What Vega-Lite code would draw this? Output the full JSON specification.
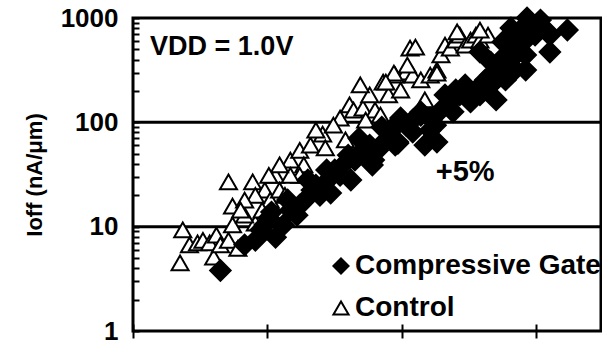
{
  "$schema": "https://vega.github.io/schema/vega-lite/v6.json",
  "autosize": "none",
  "width": 468,
  "height": 313,
  "padding": {"left": 133, "top": 18, "right": 1, "bottom": 10},
  "background": "white",
  "config": {
    "view": {"stroke": "black", "strokeWidth": 3},
    "font": "Liberation Sans"
  },
  "datasets": {
    "pts": [
      {"series": "Control", "x": 0.37, "y": 9.3},
      {"series": "Control", "x": 0.35, "y": 4.5},
      {"series": "Control", "x": 0.42, "y": 6.7},
      {"series": "Control", "x": 0.48, "y": 7.0},
      {"series": "Control", "x": 0.52, "y": 7.4},
      {"series": "Control", "x": 0.57, "y": 7.0},
      {"series": "Control", "x": 0.60, "y": 5.1},
      {"series": "Control", "x": 0.62, "y": 8.3},
      {"series": "Control", "x": 0.65, "y": 6.7},
      {"series": "Control", "x": 0.71, "y": 7.4},
      {"series": "Control", "x": 0.78, "y": 6.2},
      {"series": "Control", "x": 0.71, "y": 26.8},
      {"series": "Control", "x": 0.74, "y": 15.7},
      {"series": "Control", "x": 0.74, "y": 10.4},
      {"series": "Control", "x": 0.89, "y": 26.8},
      {"series": "Control", "x": 0.91, "y": 10.8},
      {"series": "Control", "x": 0.93, "y": 8.9},
      {"series": "Control", "x": 0.98, "y": 22.4},
      {"series": "Control", "x": 1.02, "y": 18},
      {"series": "Control", "x": 1.06, "y": 31},
      {"series": "Control", "x": 1.09, "y": 22.4},
      {"series": "Control", "x": 1.17, "y": 43.5},
      {"series": "Control", "x": 1.24, "y": 54},
      {"series": "Control", "x": 1.27, "y": 39},
      {"series": "Control", "x": 1.32, "y": 60.5},
      {"series": "Control", "x": 1.41, "y": 77},
      {"series": "Control", "x": 1.43, "y": 57},
      {"series": "Control", "x": 1.54, "y": 110},
      {"series": "Control", "x": 1.61, "y": 147},
      {"series": "Control", "x": 1.64, "y": 131},
      {"series": "Control", "x": 1.71, "y": 137},
      {"series": "Control", "x": 1.80, "y": 131},
      {"series": "Control", "x": 1.86, "y": 243},
      {"series": "Control", "x": 1.90, "y": 183},
      {"series": "Control", "x": 1.95, "y": 284},
      {"series": "Control", "x": 1.99, "y": 204},
      {"series": "Control", "x": 2.06, "y": 515},
      {"series": "Control", "x": 2.03, "y": 303},
      {"series": "Control", "x": 2.08, "y": 284},
      {"series": "Control", "x": 2.14, "y": 255},
      {"series": "Control", "x": 2.17, "y": 164},
      {"series": "Control", "x": 2.21, "y": 284},
      {"series": "Control", "x": 2.26, "y": 317},
      {"series": "Control", "x": 2.29, "y": 442},
      {"series": "Control", "x": 2.32, "y": 551},
      {"series": "Control", "x": 2.36, "y": 515},
      {"series": "Control", "x": 2.40, "y": 615},
      {"series": "Control", "x": 2.43, "y": 687},
      {"series": "Control", "x": 2.47, "y": 551},
      {"series": "Control", "x": 2.51, "y": 615},
      {"series": "Control", "x": 2.55, "y": 687},
      {"series": "Control", "x": 2.58, "y": 615},
      {"series": "Control", "x": 2.64, "y": 687},
      {"series": "Control", "x": 1.76, "y": 183},
      {"series": "Control", "x": 1.73, "y": 105},
      {"series": "Control", "x": 1.84, "y": 117},
      {"series": "Control", "x": 1.69, "y": 228},
      {"series": "Control", "x": 1.24, "y": 31},
      {"series": "Control", "x": 1.17, "y": 31},
      {"series": "Control", "x": 1.13, "y": 20},
      {"series": "Control", "x": 0.96, "y": 14.4},
      {"series": "Control", "x": 0.83, "y": 12.9},
      {"series": "Control", "x": 2.41, "y": 735},
      {"series": "Control", "x": 2.58, "y": 767},
      {"series": "Control", "x": 2.10, "y": 527},
      {"series": "Control", "x": 2.26, "y": 297},
      {"series": "Control", "x": 1.94, "y": 297},
      {"series": "Control", "x": 2.04, "y": 354},
      {"series": "Control", "x": 1.88, "y": 243},
      {"series": "Control", "x": 1.36, "y": 84},
      {"series": "Control", "x": 1.49, "y": 94},
      {"series": "Control", "x": 1.58, "y": 68},
      {"series": "Control", "x": 1.09, "y": 39},
      {"series": "Control", "x": 1.01, "y": 31},
      {"series": "Control", "x": 0.91, "y": 20},
      {"series": "Control", "x": 0.83, "y": 18},
      {"series": "Control", "x": 0.80, "y": 14.4},
      {"series": "Compressive Gate", "x": 0.65, "y": 3.8},
      {"series": "Compressive Gate", "x": 0.83, "y": 6.7},
      {"series": "Compressive Gate", "x": 0.91, "y": 7.4},
      {"series": "Compressive Gate", "x": 0.95, "y": 9.3},
      {"series": "Compressive Gate", "x": 1.01, "y": 12.1},
      {"series": "Compressive Gate", "x": 1.06, "y": 7.9},
      {"series": "Compressive Gate", "x": 1.12, "y": 10.4},
      {"series": "Compressive Gate", "x": 1.17, "y": 14.4},
      {"series": "Compressive Gate", "x": 1.22, "y": 12.9},
      {"series": "Compressive Gate", "x": 1.28, "y": 18},
      {"series": "Compressive Gate", "x": 1.33, "y": 22.4},
      {"series": "Compressive Gate", "x": 1.39, "y": 20},
      {"series": "Compressive Gate", "x": 1.45, "y": 28},
      {"series": "Compressive Gate", "x": 1.54, "y": 31},
      {"series": "Compressive Gate", "x": 1.62, "y": 28},
      {"series": "Compressive Gate", "x": 1.65, "y": 43.5},
      {"series": "Compressive Gate", "x": 1.71, "y": 54},
      {"series": "Compressive Gate", "x": 1.60, "y": 48.5},
      {"series": "Compressive Gate", "x": 1.76, "y": 60.5},
      {"series": "Compressive Gate", "x": 1.82, "y": 54},
      {"series": "Compressive Gate", "x": 1.88, "y": 67.6},
      {"series": "Compressive Gate", "x": 1.91, "y": 80.7},
      {"series": "Compressive Gate", "x": 1.95, "y": 94},
      {"series": "Compressive Gate", "x": 1.99, "y": 110},
      {"series": "Compressive Gate", "x": 1.78, "y": 39},
      {"series": "Compressive Gate", "x": 1.95, "y": 60.5},
      {"series": "Compressive Gate", "x": 2.03, "y": 94},
      {"series": "Compressive Gate", "x": 2.08, "y": 105},
      {"series": "Compressive Gate", "x": 2.14, "y": 126},
      {"series": "Compressive Gate", "x": 2.17, "y": 60.5},
      {"series": "Compressive Gate", "x": 2.21, "y": 84},
      {"series": "Compressive Gate", "x": 2.25, "y": 94},
      {"series": "Compressive Gate", "x": 2.29, "y": 131},
      {"series": "Compressive Gate", "x": 2.32, "y": 183},
      {"series": "Compressive Gate", "x": 2.36, "y": 164},
      {"series": "Compressive Gate", "x": 2.40, "y": 204},
      {"series": "Compressive Gate", "x": 2.43, "y": 183},
      {"series": "Compressive Gate", "x": 2.47, "y": 228},
      {"series": "Compressive Gate", "x": 2.51, "y": 164},
      {"series": "Compressive Gate", "x": 2.55, "y": 204},
      {"series": "Compressive Gate", "x": 2.58, "y": 183},
      {"series": "Compressive Gate", "x": 2.62, "y": 255},
      {"series": "Compressive Gate", "x": 2.66, "y": 284},
      {"series": "Compressive Gate", "x": 2.70, "y": 255},
      {"series": "Compressive Gate", "x": 2.73, "y": 354},
      {"series": "Compressive Gate", "x": 2.77, "y": 442},
      {"series": "Compressive Gate", "x": 2.81, "y": 395},
      {"series": "Compressive Gate", "x": 2.84, "y": 551},
      {"series": "Compressive Gate", "x": 2.88, "y": 767},
      {"series": "Compressive Gate", "x": 2.92, "y": 615},
      {"series": "Compressive Gate", "x": 2.96, "y": 857},
      {"series": "Compressive Gate", "x": 2.99, "y": 687},
      {"series": "Compressive Gate", "x": 3.03, "y": 956},
      {"series": "Compressive Gate", "x": 3.07, "y": 767},
      {"series": "Compressive Gate", "x": 2.76, "y": 395},
      {"series": "Compressive Gate", "x": 2.70, "y": 164},
      {"series": "Compressive Gate", "x": 2.84, "y": 317},
      {"series": "Compressive Gate", "x": 2.92, "y": 442},
      {"series": "Compressive Gate", "x": 2.77, "y": 255},
      {"series": "Compressive Gate", "x": 2.92, "y": 317},
      {"series": "Compressive Gate", "x": 3.10, "y": 687},
      {"series": "Compressive Gate", "x": 3.23, "y": 767},
      {"series": "Compressive Gate", "x": 3.10, "y": 472},
      {"series": "Compressive Gate", "x": 2.83, "y": 332},
      {"series": "Compressive Gate", "x": 2.93, "y": 1000},
      {"series": "Compressive Gate", "x": 2.81, "y": 802},
      {"series": "Compressive Gate", "x": 2.75, "y": 589},
      {"series": "Compressive Gate", "x": 2.58, "y": 472},
      {"series": "Compressive Gate", "x": 2.66, "y": 378},
      {"series": "Compressive Gate", "x": 2.34, "y": 147},
      {"series": "Compressive Gate", "x": 2.38, "y": 126},
      {"series": "Compressive Gate", "x": 2.51, "y": 157},
      {"series": "Compressive Gate", "x": 2.58, "y": 195},
      {"series": "Compressive Gate", "x": 2.66, "y": 228},
      {"series": "Compressive Gate", "x": 2.21, "y": 110},
      {"series": "Compressive Gate", "x": 2.14, "y": 117},
      {"series": "Compressive Gate", "x": 2.26, "y": 64.7},
      {"series": "Compressive Gate", "x": 1.97, "y": 64.7},
      {"series": "Compressive Gate", "x": 2.08, "y": 80.7},
      {"series": "Compressive Gate", "x": 1.44, "y": 34.9},
      {"series": "Compressive Gate", "x": 1.79, "y": 43.5},
      {"series": "Compressive Gate", "x": 1.97, "y": 63},
      {"series": "Compressive Gate", "x": 1.74, "y": 58},
      {"series": "Compressive Gate", "x": 1.47, "y": 21},
      {"series": "Compressive Gate", "x": 0.98, "y": 10.4},
      {"series": "Compressive Gate", "x": 1.03, "y": 13.8},
      {"series": "Compressive Gate", "x": 1.24, "y": 16.1},
      {"series": "Compressive Gate", "x": 1.36, "y": 25},
      {"series": "Compressive Gate", "x": 1.50, "y": 34.9},
      {"series": "Compressive Gate", "x": 1.57, "y": 40},
      {"series": "Compressive Gate", "x": 1.68, "y": 70},
      {"series": "Compressive Gate", "x": 1.85, "y": 90},
      {"series": "Compressive Gate", "x": 1.30, "y": 28},
      {"series": "Compressive Gate", "x": 1.15, "y": 18}
    ],
    "grid": [{"y": 10}, {"y": 100}],
    "notes": [
      {"x": 0.127, "y": 527, "label": "VDD = 1.0V", "kind": "vdd"},
      {"x": 2.47, "y": 33.4, "label": "+5%", "kind": "pct"}
    ]
  },
  "layer": [
    {
      "data": {"name": "grid"},
      "mark": {"type": "rule", "stroke": "black", "strokeWidth": 3},
      "encoding": {
        "y": {"field": "y", "type": "quantitative", "title": "Ioff (nA/μm)", "scale": {"type": "log", "domain": [1, 1000], "nice": false}}
      }
    },
    {
      "data": {"name": "pts"},
      "transform": [{"filter": "datum.series == 'Control'"}],
      "mark": {"type": "point", "filled": true, "strokeWidth": 2, "opacity": 1, "size": 290},
      "encoding": {
        "x": {
          "field": "x", "type": "quantitative", "title": null,
          "scale": {"domain": [0, 3.48], "nice": false, "zero": false},
          "axis": {"values": [0, 1, 2, 3], "labels": false, "domain": false, "offset": -7, "tickSize": 14, "tickWidth": 2, "tickColor": "black", "grid": false}
        },
        "y": {
          "field": "y", "type": "quantitative", "title": "Ioff (nA/μm)",
          "scale": {"type": "log", "domain": [1, 1000], "nice": false},
          "axis": {
            "values": [1, 2, 3, 4, 5, 6, 7, 8, 9, 10, 20, 30, 40, 50, 60, 70, 80, 90, 100, 200, 300, 400, 500, 600, 700, 800, 900, 1000],
            "labelExpr": "indexof([1, 10, 100, 1000], datum.value) >= 0 ? toString(datum.value) : ''",
            "labelOverlap": false,
            "labelBound": false,
            "domain": false,
            "offset": -6,
            "tickSize": 6,
            "tickWidth": 2,
            "tickColor": "black",
            "grid": false,
            "labelFont": "Liberation Sans",
            "labelFontWeight": "bold",
            "labelFontSize": 26,
            "labelColor": "black",
            "labelPadding": 15,
            "titleFont": "Liberation Sans",
            "titleFontWeight": "bold",
            "titleFontSize": 22,
            "titleColor": "black",
            "titlePadding": 14
          }
        },
        "shape": {
          "field": "series", "type": "nominal",
          "scale": {"domain": ["Compressive Gate", "Control"], "range": ["diamond", "triangle-up"]},
          "legend": {"title": null, "orient": "none", "legendX": 194, "legendY": 234, "padding": 0, "labelFont": "Liberation Sans", "labelFontWeight": "bold", "labelFontSize": 28, "labelColor": "black", "labelOffset": 0, "labelLimit": 0, "symbolSize": 230, "symbolStrokeWidth": 2, "rowPadding": 14}
        },
        "fill": {
          "field": "series", "type": "nominal",
          "scale": {"domain": ["Compressive Gate", "Control"], "range": ["black", "white"]},
          "legend": {"title": null, "orient": "none", "legendX": 194, "legendY": 234, "padding": 0, "labelFont": "Liberation Sans", "labelFontWeight": "bold", "labelFontSize": 28, "labelColor": "black", "labelOffset": 0, "labelLimit": 0, "symbolSize": 230, "symbolStrokeWidth": 2, "rowPadding": 14}
        },
        "stroke": {
          "field": "series", "type": "nominal",
          "scale": {"domain": ["Compressive Gate", "Control"], "range": ["black", "black"]},
          "legend": {"title": null, "orient": "none", "legendX": 194, "legendY": 234, "padding": 0, "labelFont": "Liberation Sans", "labelFontWeight": "bold", "labelFontSize": 28, "labelColor": "black", "labelOffset": 0, "labelLimit": 0, "symbolSize": 230, "symbolStrokeWidth": 2, "rowPadding": 14}
        }
      }
    },
    {
      "data": {"name": "pts"},
      "transform": [{"filter": "datum.series == 'Compressive Gate'"}],
      "mark": {"type": "point", "filled": true, "strokeWidth": 2, "opacity": 1, "size": 420},
      "encoding": {
        "x": {"field": "x", "type": "quantitative", "title": null},
        "y": {"field": "y", "type": "quantitative", "title": "Ioff (nA/μm)"},
        "shape": {"field": "series", "type": "nominal"},
        "fill": {"field": "series", "type": "nominal"},
        "stroke": {"field": "series", "type": "nominal"}
      }
    },
    {
      "data": {"name": "notes"},
      "transform": [{"filter": "datum.kind == 'vdd'"}],
      "mark": {"type": "text", "align": "left", "baseline": "middle", "font": "Liberation Sans", "fontWeight": "bold", "fontSize": 27, "color": "black"},
      "encoding": {
        "x": {"field": "x", "type": "quantitative", "title": null},
        "y": {"field": "y", "type": "quantitative", "title": "Ioff (nA/μm)"},
        "text": {"field": "label"}
      }
    },
    {
      "data": {"name": "notes"},
      "transform": [{"filter": "datum.kind == 'pct'"}],
      "mark": {"type": "text", "align": "center", "baseline": "middle", "font": "Liberation Sans", "fontWeight": "bold", "fontSize": 29, "color": "black"},
      "encoding": {
        "x": {"field": "x", "type": "quantitative", "title": null},
        "y": {"field": "y", "type": "quantitative", "title": "Ioff (nA/μm)"},
        "text": {"field": "label"}
      }
    }
  ]
}
